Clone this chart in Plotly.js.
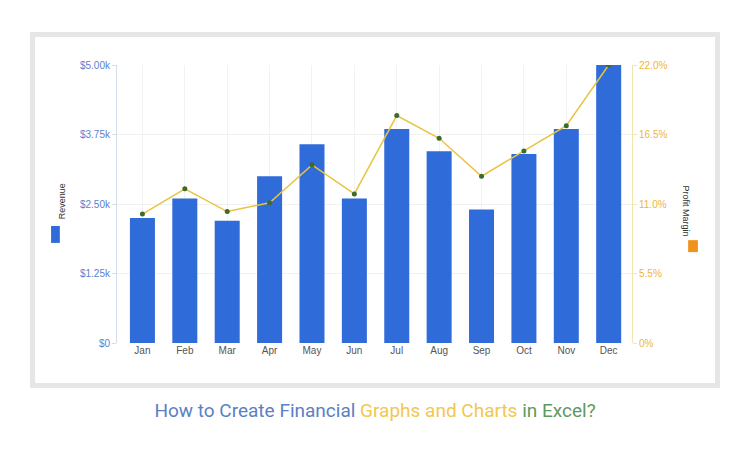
<!DOCTYPE html>
<html>
<head>
<meta charset="utf-8">
<script src="https://cdn.plot.ly/plotly-3.0.1.min.js"></script>
<style>
  html, body { margin: 0; padding: 0; background: #fff; }
  #chart { width: 750px; height: 450px; }
</style>
</head>
<body>
<div id="chart"></div>
<script>
const months = ["Jan","Feb","Mar","Apr","May","Jun","Jul","Aug","Sep","Oct","Nov","Dec"];
const revenue = [2250, 2600, 2200, 3000, 3575, 2600, 3850, 3450, 2400, 3400, 3850, 5000];
const profitMargin = [10.2, 12.2, 10.4, 11.1, 14.1, 11.8, 18.0, 16.2, 13.2, 15.2, 17.2, 22.0];

const revTickVals = [0, 1250, 2500, 3750, 5000];
const revTickText = ["$0", "$1.25k", "$2.50k", "$3.75k", "$5.00k"];
const pmTickVals = [0, 5.5, 11, 16.5, 22];
const pmTickText = ["0%", "5.5%", "11.0%", "16.5%", "22.0%"];

const BLUE = "#2f6bd9";
const GOLD = "#e8c440";

const traces = [
  {
    type: "bar",
    x: months,
    y: revenue,
    name: "Revenue",
    marker: { color: BLUE },
    hoverinfo: "x+y"
  },
  {
    type: "scatter",
    mode: "lines+markers",
    x: months,
    y: profitMargin,
    yaxis: "y2",
    name: "Profit Margin",
    line: { color: GOLD, width: 1.5 },
    marker: { color: "#3d6b2e", size: 5 }
  }
];

const layout = {
  width: 750,
  height: 450,
  margin: { l: 117, r: 118, t: 65, b: 107 },
  paper_bgcolor: "#fff",
  plot_bgcolor: "#fff",
  showlegend: false,
  bargap: 0.41,
  font: { family: "Liberation Sans, Arial, sans-serif", size: 10, color: "#555" },
  title: {
    text: '<span style="color:#5b80c4">How to Create Financial </span>' +
          '<span style="color:#f0c850">Graphs and Charts </span>' +
          '<span style="color:#5f9a5c">in Excel?</span>',
    font: { family: "Roboto, sans-serif", size: 19 },
    x: 0.5, xanchor: "center",
    yref: "container", y: 0.089, yanchor: "middle"
  },
  xaxis: {
    range: [-0.6, 11.55],
    showgrid: true,
    gridcolor: "#f2f2f2",
    ticks: "",
    tickfont: { size: 10, color: "#555" },
    showline: false,
    zeroline: false
  },
  yaxis: {
    range: [0, 5000],
    tickvals: revTickVals,
    ticktext: revTickText,
    tickfont: { size: 10, color: "#5a82cf" },
    ticks: "outside",
    ticklen: 4,
    tickcolor: "#d5dcea",
    showline: true,
    linecolor: "#d5dcea",
    gridcolor: "#f1f1f1",
    zeroline: false
  },
  yaxis2: {
    overlaying: "y",
    side: "right",
    range: [0, 22],
    tickvals: pmTickVals,
    ticktext: pmTickText,
    tickfont: { size: 10, color: "#efb43a" },
    ticks: "outside",
    ticklen: 4,
    tickcolor: "#f4e4ae",
    showline: true,
    linecolor: "#f4e4ae",
    showgrid: false,
    zeroline: false
  },
  annotations: [
    {
      xref: "paper", yref: "paper", x: -0.1204, y: 0.51,
      text: "Revenue", textangle: -90, showarrow: false,
      font: { size: 9, color: "#333" }
    },
    {
      xref: "paper", yref: "paper", x: 1.118, y: 0.474,
      text: "Profit Margin", textangle: 90, showarrow: false,
      font: { size: 9, color: "#333" }
    }
  ],
  shapes: [
    {
      type: "rect", xref: "paper", yref: "paper",
      x0: -0.164, x1: 1.166, y0: -0.153, y1: 1.110,
      line: { color: "#e6e6e6", width: 5 }, layer: "below"
    },
    {
      type: "rect", xref: "paper", yref: "paper",
      x0: -0.128, x1: -0.111, y0: 0.360, y1: 0.421,
      fillcolor: BLUE, line: { width: 0 }
    },
    {
      type: "rect", xref: "paper", yref: "paper",
      x0: 1.109, x1: 1.128, y0: 0.327, y1: 0.370,
      fillcolor: "#f0921e", line: { width: 0 }
    }
  ]
};

Plotly.newPlot("chart", traces, layout, { displayModeBar: false, staticPlot: true });
</script>
</body>
</html>
